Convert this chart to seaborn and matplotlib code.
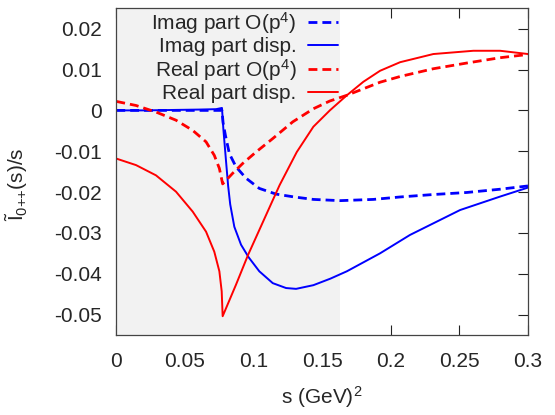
import matplotlib
matplotlib.use("Agg")
import matplotlib.pyplot as plt
import seaborn as sns
import pandas as pd
from matplotlib.ticker import FixedLocator, FixedFormatter

# ---------------- data ----------------
imag_p4_s = [0.0, 0.077, 0.0778, 0.0795, 0.0824, 0.0872, 0.0945, 0.1042, 0.1164,
             0.1297, 0.1436, 0.163, 0.1873, 0.2068, 0.231, 0.2554, 0.2797, 0.3]
imag_p4_v = [0.0, 0.0, -0.0030, -0.0061, -0.0106, -0.0138, -0.0166, -0.0191, -0.0205,
             -0.0212, -0.0218, -0.0221, -0.0218, -0.0212, -0.0206, -0.0201, -0.0193, -0.0185]

imag_disp_s = [0.0, 0.02, 0.04, 0.06, 0.0727, 0.077, 0.078, 0.080, 0.0815, 0.083,
               0.086, 0.0909, 0.0965, 0.1042, 0.114, 0.1237, 0.131, 0.1436, 0.156,
               0.168, 0.1922, 0.214, 0.2505, 0.2797, 0.3]
imag_disp_v = [0.0, 0.0, 0.0001, 0.0002, 0.0003, 0.0006, -0.0045, -0.0126, -0.0185, -0.0230,
               -0.0285, -0.0329, -0.0360, -0.0394, -0.0423, -0.0435, -0.0437, -0.0428, -0.0412,
               -0.0394, -0.0350, -0.0305, -0.0244, -0.0211, -0.0189]

real_p4_s = [0.0, 0.0144, 0.0289, 0.0435, 0.0557, 0.0654, 0.0714, 0.0751, 0.0775,
             0.0848, 0.0921, 0.1018, 0.114, 0.1286, 0.1436, 0.1556, 0.168, 0.1922,
             0.2068, 0.231, 0.2554, 0.2797, 0.3]
real_p4_v = [0.0022, 0.0012, -0.0004, -0.0024, -0.0049, -0.0077, -0.0110, -0.0142, -0.0180,
             -0.0154, -0.0130, -0.0102, -0.0069, -0.0028, 0.0004, 0.0023, 0.0037, 0.0069,
             0.0083, 0.0102, 0.0116, 0.0129, 0.0137]

real_disp_s = [0.0, 0.0144, 0.0289, 0.0435, 0.0557, 0.0654, 0.0714, 0.0751, 0.0768, 0.0775,
               0.0872, 0.096, 0.114, 0.119, 0.1315, 0.1436, 0.1556, 0.168, 0.18, 0.1922,
               0.2068, 0.231, 0.2602, 0.2797, 0.3]
real_disp_v = [-0.0118, -0.0134, -0.0159, -0.0199, -0.0248, -0.0297, -0.0346, -0.0394, -0.0443, -0.0504,
               -0.0427, -0.0354, -0.0220, -0.0183, -0.0102, -0.0040, 0.0000, 0.0037, 0.0070, 0.0097,
               0.0118, 0.0138, 0.0146, 0.0146, 0.0138]

labels = ["Imag part O(p$^4$)", "Imag part disp.", "Real part O(p$^4$)", "Real part disp."]

x_ticks = [0, 0.05, 0.1, 0.15, 0.2, 0.25, 0.3]
x_ticklabels = ["0", "0.05", "0.1", "0.15", "0.2", "0.25", "0.3"]
y_ticks = [0.02, 0.01, 0, -0.01, -0.02, -0.03, -0.04, -0.05]
y_ticklabels = ["0.02", "0.01", "0", "-0.01", "-0.02", "-0.03", "-0.04", "-0.05"]
shade_end = 0.163

# ---------------- style ----------------
sns.set_style("white")
plt.rcParams["font.family"] = ["Liberation Sans", "DejaVu Sans"]
plt.rcParams["mathtext.fontset"] = "custom"
plt.rcParams["mathtext.rm"] = "Liberation Sans"
plt.rcParams["mathtext.it"] = "Liberation Sans:italic"
plt.rcParams["mathtext.bf"] = "Liberation Sans:bold"
plt.rcParams["axes.unicode_minus"] = False

fig = plt.figure(figsize=(5.55, 4.15), dpi=100)
ax = fig.add_axes([116.3 / 555, 1 - 335 / 415, (528 - 116.3) / 555, (335 - 8.3) / 415])

ax.axvspan(0, shade_end, color="#f2f2f2", lw=0, zorder=2.6)

dash = (0, (3.2, 1.8))
series = [
    (imag_p4_s, imag_p4_v, "#0000ff", dash, 2.0, labels[0]),
    (imag_disp_s, imag_disp_v, "#0000ff", "-", 1.4, labels[1]),
    (real_p4_s, real_p4_v, "#ff0000", dash, 2.0, labels[2]),
    (real_disp_s, real_disp_v, "#ff0000", "-", 1.4, labels[3]),
]
for xs, ys, col, ls, lw, lab in series:
    df = pd.DataFrame({"s": xs, "v": ys})
    sns.lineplot(data=df, x="s", y="v", ax=ax, color=col, linestyle=ls,
                 linewidth=lw, label=lab, zorder=4)

ax.set_xlim(0, 0.3)
ax.set_ylim(-0.055, 0.025)
ax.xaxis.set_major_locator(FixedLocator(x_ticks))
ax.xaxis.set_major_formatter(FixedFormatter(x_ticklabels))
ax.yaxis.set_major_locator(FixedLocator(y_ticks))
ax.yaxis.set_major_formatter(FixedFormatter(y_ticklabels))
ax.set_axisbelow(True)

ax.tick_params(axis="both", which="major", direction="in", length=7.2, width=0.8,
               color="#222222", labelsize=15, top=True, right=True,
               bottom=True, left=True)
ax.tick_params(axis="x", pad=12)
ax.tick_params(axis="y", pad=10.5)

for sp in ax.spines.values():
    sp.set_color("#444444")
    sp.set_linewidth(0.9)
    sp.set_zorder(5)
    sp.set_visible(True)

ax.set_xlabel("s (GeV)$^2$", fontsize=15, labelpad=10)
ax.set_ylabel(r"$\tilde{\mathrm{I}}_{0{+}{+}}$(s)/s", fontsize=15)
ax.yaxis.set_label_coords(-0.21, 0.46)

leg = ax.legend(loc="upper right", bbox_to_anchor=((338 - 116.3) / 411.7, 0.995),
                frameon=False, markerfirst=False, fontsize=15, borderpad=0,
                borderaxespad=0, handlelength=1.45, handletextpad=0.55,
                labelspacing=0.05)
leg.set_zorder(6)

fig.savefig("out.png", dpi=100)
